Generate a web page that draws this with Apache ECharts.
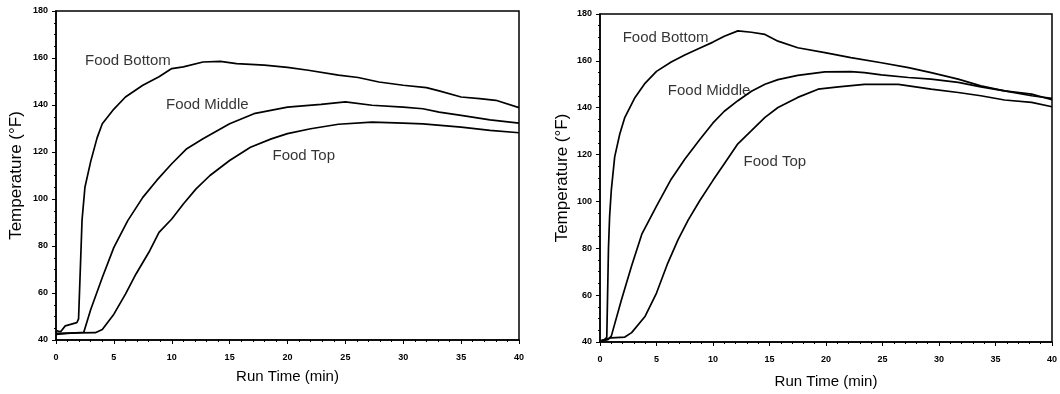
<!DOCTYPE html>
<html>
<head>
<meta charset="utf-8">
<script src="https://cdn.jsdelivr.net/npm/echarts@6/dist/echarts.min.js"></script>
<style>
html,body{margin:0;padding:0;background:#fff;}
#chart{width:1060px;height:394px;}
</style>
</head>
<body>
<div id="chart"></div>
<script>
// ---- Data (time in min, temperature in °F) ----
const xTicks = [0, 5, 10, 15, 20, 25, 30, 35, 40];
const yTicks = [40, 60, 80, 100, 120, 140, 160, 180];

// Left panel
const leftBottom = [[0,44],[0.4,43.5],[0.8,46],[1.8,47.4],[1.95,49],[2.1,70],[2.25,91],[2.5,105],[3.0,116],[3.55,126],[4.0,132],[4.9,137.7],[6.0,143.4],[7.5,148.4],[8.9,152],[10,155.5],[11,156.2],[12.7,158.3],[14.2,158.6],[15.6,157.6],[18,157],[20,156],[21.8,154.8],[24.4,152.7],[26.1,151.7],[27.9,149.8],[30,148.4],[32,147.4],[33.1,146],[35,143.4],[36.6,142.7],[38,142],[40,138.9]];
const leftMiddle = [[0,42.4],[1,42.8],[2.4,43.3],[3.0,53],[4.0,66.6],[5.0,79.4],[6.2,90.8],[7.5,100.7],[8.7,107.9],[10,115],[11.3,121.4],[12.7,125.6],[15,132],[17.1,136.3],[20,139.1],[22.9,140.3],[25,141.3],[27.3,139.9],[30,139.1],[31.7,138.4],[33.1,137],[35,135.6],[37.5,133.7],[40,132.3]];
const leftTop = [[0,42.8],[2,43],[3.4,43.1],[4.0,44.5],[5,51],[6,59.5],[6.9,68],[8.1,78],[8.9,85.8],[10,91.5],[11,97.9],[12.1,104.3],[13.3,110],[15,116.4],[16.8,122],[18.6,125.6],[20,127.8],[22,129.9],[24.4,131.8],[27.3,132.7],[30,132.3],[31.7,132],[35,130.6],[37.5,129.2],[40,128.2]];
const leftLabels = [[2.5,158.6,'Food Bottom'],[9.5,140.1,'Food Middle'],[18.7,118.2,'Food Top']];

// Right panel
const rightBottom = [[0,40.4],[0.4,41],[0.6,42],[0.75,80],[0.85,93.5],[1.0,104.8],[1.3,119],[1.75,128.8],[2.2,135.9],[3.1,144.4],[4.0,150.5],[5,155.5],[6.3,159.5],[7.5,162.5],[8.85,165.5],[10,168],[11,170.5],[12.2,172.8],[13.4,172.2],[14.6,171.3],[15.75,168.4],[17.5,165.6],[19.9,163.5],[22.2,161.4],[24.9,159.2],[27.3,157.1],[29.3,155],[31.7,152.2],[33.7,149.3],[35.8,147.2],[38.2,145.1],[40,144]];
const rightMiddle = [[0,40.4],[0.7,41],[1.0,42.5],[1.9,58],[2.8,72.5],[3.7,86],[5,98],[6.3,109.5],[7.5,118],[8.85,126.5],[10,133.5],[11,138.5],[12.2,143],[13.4,147],[14.6,150],[15.75,152],[17.5,153.8],[19.9,155.3],[22.2,155.4],[23.4,155],[24.9,154],[27.3,152.9],[29.3,152.2],[31.7,150.8],[33.7,148.9],[35.8,147.2],[38.2,145.8],[40,143.4]];
const rightTop = [[0,40.4],[1,41.8],[2.2,42.1],[2.8,44],[4.0,51],[5,60.9],[6.0,73.7],[6.9,83.6],[7.8,92],[8.85,100.5],[10,109],[11,116.1],[12.2,124.6],[13.4,130.2],[14.6,135.9],[15.75,140.1],[17.5,144.4],[19.3,147.9],[21.1,148.9],[23.4,150],[26.4,150],[29.3,147.9],[31.7,146.5],[33.7,145.1],[35.8,143.3],[38.2,142.3],[40,140.4]];
const rightLabels = [[2.0,169.7,'Food Bottom'],[6.0,147.3,'Food Middle'],[12.7,116.8,'Food Top']];

const xTitle = 'Run Time (min)';
const yTitle = 'Temperature (°F)';

// ---- Chart ----
const FONT = '"Liberation Sans", Arial, sans-serif';
const chart = echarts.init(document.getElementById('chart'), null, {renderer: 'canvas'});

function xAxisFor(gi, gap) {
  return {
    type: 'value', gridIndex: gi, min: xTicks[0], max: xTicks[xTicks.length-1], interval: 5,
    name: xTitle, nameLocation: 'middle', nameGap: gap,
    nameTextStyle: {color: '#000', fontSize: 15, fontFamily: FONT},
    axisLine: {show: true, onZero: false, lineStyle: {color: '#000', width: 1.5}},
    axisTick: {show: true, length: 4, lineStyle: {color: '#000', width: 1}},
    minorTick: {show: true, splitNumber: 5, length: 2, lineStyle: {color: '#000', width: 1}},
    axisLabel: {color: '#000', fontSize: 9, fontWeight: 'bold', fontFamily: FONT, margin: 13},
    splitLine: {show: false}
  };
}
function yAxisFor(gi, gap) {
  return {
    type: 'value', gridIndex: gi, min: yTicks[0], max: yTicks[yTicks.length-1], interval: 20,
    name: yTitle, nameLocation: 'middle', nameGap: gap,
    nameTextStyle: {color: '#000', fontSize: 17, fontFamily: FONT},
    axisLine: {show: true, onZero: false, lineStyle: {color: '#000', width: 1.5}},
    axisTick: {show: true, length: 4, lineStyle: {color: '#000', width: 1}},
    minorTick: {show: true, splitNumber: 4, length: 2, lineStyle: {color: '#000', width: 1}},
    axisLabel: {color: '#000', fontSize: 9, fontWeight: 'bold', fontFamily: FONT, margin: 8},
    splitLine: {show: false}
  };
}
function lineSeries(gi, data) {
  return {
    type: 'line', xAxisIndex: gi, yAxisIndex: gi, data: data,
    showSymbol: false, symbol: 'none', smooth: false,
    lineStyle: {color: '#000', width: 1.7}, z: 3, silent: true
  };
}
function labelSeries(gi, data) {
  return {
    type: 'scatter', xAxisIndex: gi, yAxisIndex: gi, data: data,
    symbolSize: 0.1, itemStyle: {color: 'transparent'}, silent: true,
    label: {show: true, position: 'right', distance: 0,
      formatter: p => p.data[2], color: '#000', fontSize: 15, fontFamily: FONT}
  };
}

chart.setOption({
  animation: false,
  backgroundColor: '#fff',
  grid: [
    {left: 56, right: 541, top: 11, bottom: 54, show: true, borderColor: '#000', borderWidth: 1.5, backgroundColor: 'transparent'},
    {left: 600, right: 1, top: 14, bottom: 52, show: true, borderColor: '#000', borderWidth: 1.5, backgroundColor: 'transparent'}
  ],
  xAxis: [xAxisFor(0, 29), xAxisFor(1, 32)],
  yAxis: [yAxisFor(0, 31), yAxisFor(1, 29)],
  series: [
    lineSeries(0, leftBottom), lineSeries(0, leftMiddle), lineSeries(0, leftTop), labelSeries(0, leftLabels),
    lineSeries(1, rightBottom), lineSeries(1, rightMiddle), lineSeries(1, rightTop), labelSeries(1, rightLabels)
  ]
});
</script>
</body>
</html>
